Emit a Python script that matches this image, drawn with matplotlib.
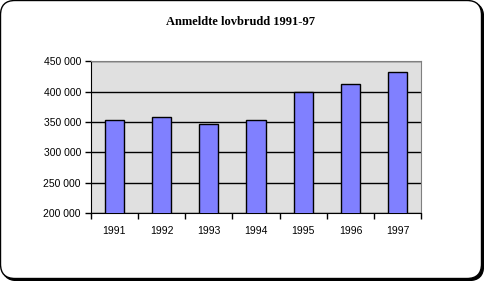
import numpy as np
import matplotlib.pyplot as plt
from matplotlib.patches import FancyBboxPatch
from matplotlib.ticker import FuncFormatter

years = ["1991", "1992", "1993", "1994", "1995", "1996", "1997"]
offences = [352800, 357700, 346200, 352800, 400000, 412600, 431900]

fig = plt.figure(figsize=(4.84, 2.81), dpi=100)
W, H = 484, 281

# shadow + rounded frame (behind the axes)
shadow = FancyBboxPatch((2.5 / W, 0.5 / H), 481 / W, 278 / H,
                        boxstyle="round,pad=0,rounding_size=0.03",
                        transform=fig.transFigure, facecolor="black",
                        edgecolor="black", linewidth=1,
                        mutation_aspect=W / H, zorder=-2)
frame = FancyBboxPatch((0.5 / W, 2.5 / H), 481 / W, 278 / H,
                       boxstyle="round,pad=0,rounding_size=0.03",
                       transform=fig.transFigure, facecolor="white",
                       edgecolor="black", linewidth=1,
                       mutation_aspect=W / H, zorder=-1)
fig.patches.extend([shadow, frame])

ax = fig.add_axes([90.7 / W, 1 - 213 / H, (421.3 - 90.7) / W, (213 - 61.3) / H])
ax.set_facecolor("#E0E0E0")

x = np.arange(len(years))
ax.bar(x, offences, width=0.41, color="#8080FF", edgecolor="black",
       linewidth=1, zorder=3)

ax.set_ylim(200000, 450000)
ax.set_xlim(-0.5, len(years) - 0.5)
ax.set_yticks(np.arange(200000, 450001, 50000))
ax.yaxis.set_major_formatter(FuncFormatter(lambda v, p: f"{int(v):,}".replace(",", " ")))
ax.grid(axis="y", color="black", linewidth=1, zorder=1)

ax.set_xticks(x)
ax.set_xticklabels(years)
ax.set_xticks(np.arange(-0.5, len(years)), minor=True)
ax.tick_params(axis="x", which="major", length=0, pad=9)
ax.tick_params(axis="x", which="minor", length=4, direction="out", width=1)
ax.tick_params(axis="y", length=4, direction="out", width=1, pad=3)
for lab in ax.get_xticklabels() + ax.get_yticklabels():
    lab.set_fontfamily("Liberation Sans")
    lab.set_fontsize(7.5)

for side in ["top", "right"]:
    ax.spines[side].set_color("#808080")
ax.spines["left"].set_color("black")
ax.spines["bottom"].set_color("black")

fig.text(241 / W, 1 - 22 / H, "Anmeldte lovbrudd 1991-97", ha="center", va="center",
         fontfamily="Liberation Serif", fontweight="bold", fontsize=9)

fig.savefig("out.png", dpi=100)
